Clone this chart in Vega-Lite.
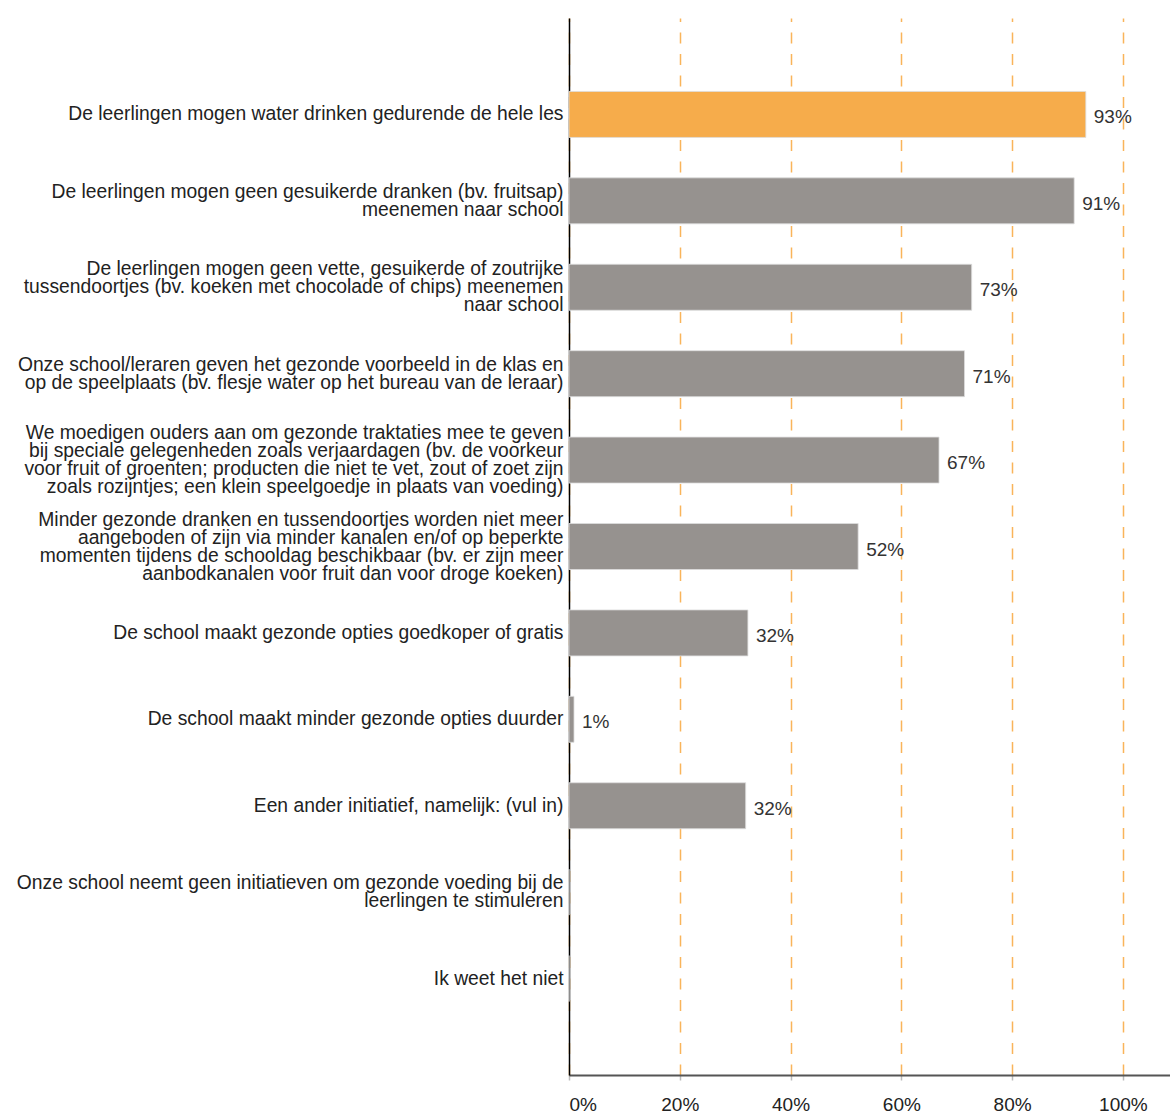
{
  "$schema": "https://vega.github.io/schema/vega-lite/v6.json",
  "autosize": {"type": "none"},
  "padding": {"left": 569, "top": 18, "right": 0, "bottom": 38},
  "width": 601,
  "height": 1057,
  "background": "white",
  "config": {
    "view": {"stroke": null},
    "font": "Liberation Sans",
    "axis": {"labelFont": "Liberation Sans", "labelColor": "#222222"}
  },
  "data": {
    "values": [
      {"item": "De leerlingen mogen water drinken gedurende de hele les", "value": 0.933},
      {"item": "De leerlingen mogen geen gesuikerde dranken (bv. fruitsap)|meenemen naar school", "value": 0.912},
      {"item": "De leerlingen mogen geen vette, gesuikerde of zoutrijke|tussendoortjes (bv. koeken met chocolade of chips) meenemen|naar school", "value": 0.727},
      {"item": "Onze school/leraren geven het gezonde voorbeeld in de klas en|op de speelplaats (bv. flesje water op het bureau van de leraar)", "value": 0.714},
      {"item": "We moedigen ouders aan om gezonde traktaties mee te geven|bij speciale gelegenheden zoals verjaardagen (bv. de voorkeur|voor fruit of groenten; producten die niet te vet, zout of zoet zijn|zoals rozijntjes; een klein speelgoedje in plaats van voeding)", "value": 0.668},
      {"item": "Minder gezonde dranken en tussendoortjes worden niet meer|aangeboden of zijn via minder kanalen en/of op beperkte|momenten tijdens de schooldag beschikbaar (bv. er zijn meer|aanbodkanalen voor fruit dan voor droge koeken)", "value": 0.522},
      {"item": "De school maakt gezonde opties goedkoper of gratis", "value": 0.323},
      {"item": "De school maakt minder gezonde opties duurder", "value": 0.009},
      {"item": "Een ander initiatief, namelijk: (vul in)", "value": 0.319},
      {"item": "Onze school neemt geen initiatieven om gezonde voeding bij de|leerlingen te stimuleren", "value": 0},
      {"item": "Ik weet het niet", "value": 0}
    ]
  },
  "encoding": {
    "y": {
      "field": "item",
      "type": "nominal",
      "sort": null,
      "scale": {"paddingInner": 0.468, "paddingOuter": 0.85},
      "axis": {
        "title": null,
        "labelExpr": "split(datum.label, '|')",
        "labelFontSize": 19.3,
        "labelLineHeight": 18,
        "labelLimit": 0,
        "labelPadding": 6,
        "ticks": false,
        "domainColor": "#000000",
        "domainWidth": 1.5,
        "grid": false,
        "labelColor": "#222222",
        "labelOffset": {
          "condition": [
            {"test": "length(split(datum.value, '|')) == 4", "value": -27},
            {"test": "length(split(datum.value, '|')) == 3", "value": -18},
            {"test": "length(split(datum.value, '|')) == 2", "value": -9}
          ],
          "value": 0
        }
      }
    },
    "x": {
      "field": "value",
      "type": "quantitative",
      "scale": {"domain": [0, 1.085], "nice": false, "zero": true},
      "axis": {
        "title": null,
        "format": ".0%",
        "values": [0, 0.2, 0.4, 0.6, 0.8, 1.0],
        "labelFontSize": 19,
        "labelPadding": 15,
        "labelColor": "#222222",
        "tickSize": 5,
        "tickColor": "#bbbbbb",
        "tickWidth": 1.5,
        "domainColor": "#555555",
        "domainWidth": 2,
        "grid": true,
        "gridColor": "#f9b45a",
        "gridWidth": 1.5,
        "gridDash": [11, 10.5]
      }
    }
  },
  "layer": [
    {
      "mark": {"type": "bar", "stroke": "#dddddd", "strokeWidth": 0.8},
      "encoding": {
        "color": {
          "condition": {"test": "datum.item === 'De leerlingen mogen water drinken gedurende de hele les'", "value": "#f6ac4b"},
          "value": "#96928f"
        }
      }
    },
    {
      "transform": [{"filter": "datum.value > 0"}],
      "mark": {"type": "text", "align": "left", "baseline": "middle", "dx": 8, "dy": 3, "fontSize": 19, "color": "#333333", "font": "Liberation Sans"},
      "encoding": {
        "text": {"field": "value", "type": "quantitative", "format": ".0%"}
      }
    }
  ]
}
